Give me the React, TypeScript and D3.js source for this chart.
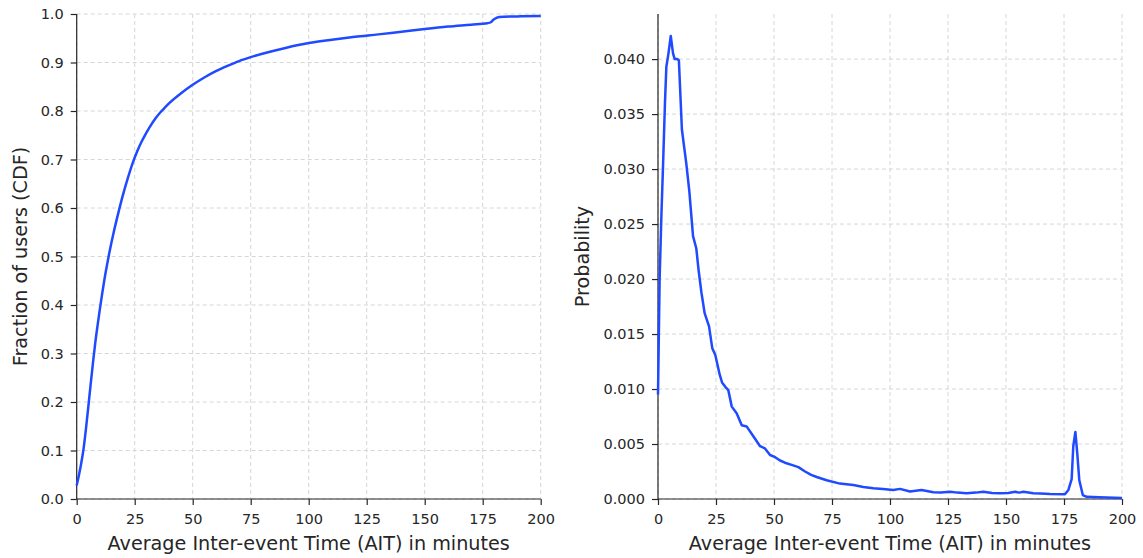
import React, { useEffect, useRef } from 'react'
import * as d3 from 'd3'

// CDF of average inter-event time (left panel)
const cdfX = [0, 1, 2, 3, 4, 5, 6, 7, 8, 9, 10, 11, 12, 13, 14, 16, 18, 20, 22, 24, 26, 28, 30, 32, 34, 36, 38, 40, 45, 50, 55, 60, 65, 70, 75, 80, 90, 100, 110, 120, 130, 140, 150, 160, 170, 177, 178.5, 179.6, 181, 182.2, 190, 200]
const cdfY = [0.028, 0.05, 0.075, 0.105, 0.145, 0.19, 0.236, 0.28, 0.322, 0.358, 0.392, 0.424, 0.454, 0.481, 0.506, 0.551, 0.591, 0.628, 0.661, 0.691, 0.716, 0.737, 0.755, 0.771, 0.785, 0.797, 0.807, 0.8166, 0.8366, 0.854, 0.869, 0.882, 0.893, 0.903, 0.911, 0.918, 0.93, 0.94, 0.947, 0.953, 0.958, 0.9635, 0.969, 0.974, 0.978, 0.981, 0.983, 0.988, 0.992, 0.994, 0.995, 0.996]

// probability distribution (right panel)
const pdfX = [0, 0.7, 1.5, 2.2, 3, 3.6, 4.5, 5.5, 6.5, 7.2, 8.3, 9, 10.3, 12.2, 13.5, 15.1, 16.5, 17.5, 18.7, 20.1, 22, 23.4, 24.7, 26.6, 27.6, 29, 30.3, 31.8, 33.9, 36.1, 38.2, 41.1, 44, 46.1, 48.3, 50.5, 52.6, 54.7, 57.6, 60.5, 63.4, 66, 68.4, 72.7, 78.4, 84.2, 88.5, 92.8, 97, 101.4, 104.3, 108.6, 113.6, 118.7, 122, 125.9, 129, 133, 137, 140.2, 144, 147.4, 151, 153.9, 155.7, 157.5, 161.8, 165, 169, 175.4, 176.9, 178.3, 179, 179.9, 180.7, 181.6, 183.1, 184.8, 190, 200]
const pdfY = [0.0095, 0.02, 0.026, 0.0305, 0.036, 0.0393, 0.0405, 0.0421, 0.0405, 0.04, 0.04, 0.0399, 0.0336, 0.0305, 0.028, 0.0239, 0.0228, 0.0208, 0.0188, 0.0169, 0.0157, 0.0137, 0.0131, 0.0113, 0.0106, 0.0102, 0.0099, 0.0084, 0.0078, 0.0067, 0.0066, 0.0057, 0.0048, 0.0046, 0.004, 0.0038, 0.0035, 0.0033, 0.0031, 0.0029, 0.0025, 0.0022, 0.002, 0.0017, 0.0014, 0.00127, 0.0011, 0.00097, 0.0009, 0.00082, 0.00092, 0.00068, 0.00082, 0.00061, 0.0006, 0.00066, 0.00058, 0.00052, 0.00058, 0.00066, 0.00055, 0.00052, 0.00055, 0.00066, 0.00058, 0.00066, 0.00052, 0.0005, 0.00045, 0.00043, 0.00082, 0.0018, 0.0048, 0.0061, 0.0042, 0.0017, 0.00036, 0.0002, 0.00015, 0.0001]

const xTicks = [0, 25, 50, 75, 100, 125, 150, 175, 200]
const cdfTicks = [0, 0.1, 0.2, 0.3, 0.4, 0.5, 0.6, 0.7, 0.8, 0.9, 1.0]
const pdfTicks = [0, 0.005, 0.01, 0.015, 0.02, 0.025, 0.03, 0.035, 0.04]

const W = 1143
const H = 558
const FONT = 'DejaVu Sans, sans-serif'
const BLUE = '#1f4aff'
const INK = '#262626'

function drawPanel(svg, opts) {
  let { left, right, top, bottom, xs, ys, yMax, yTicks, fmt, label, labelX, smooth } = opts
  let x = d3.scaleLinear().domain([0, 200]).range([left, right])
  let y = d3.scaleLinear().domain([0, yMax]).range([bottom, top])

  let g = svg.append('g')

  // dashed grid
  g.append('g').selectAll('line')
    .data(xTicks)
    .enter()
    .append('line')
    .attr('x1', d => x(d)).attr('x2', d => x(d))
    .attr('y1', top).attr('y2', bottom)
    .attr('stroke', '#d6d6d6').attr('stroke-width', 1).attr('stroke-dasharray', '4,3')
  g.append('g').selectAll('line')
    .data(yTicks)
    .enter()
    .append('line')
    .attr('x1', left).attr('x2', right)
    .attr('y1', d => y(d)).attr('y2', d => y(d))
    .attr('stroke', '#d6d6d6').attr('stroke-width', 1).attr('stroke-dasharray', '4,3')

  // axes, only left and bottom spines
  let xAxis = d3.axisBottom(x).tickValues(xTicks).tickSize(6).tickPadding(9).tickFormat(d3.format('d'))
  let yAxis = d3.axisLeft(y).tickValues(yTicks).tickSize(6).tickPadding(7).tickFormat(d3.format(fmt))
  let gx = g.append('g').attr('transform', 'translate(0,' + bottom + ')').call(xAxis)
  let gy = g.append('g').attr('transform', 'translate(' + left + ',0)').call(yAxis)
  gx.select('.domain').attr('d', 'M' + left + ',0H' + right)
  gy.select('.domain').attr('d', 'M0,' + top + 'V' + bottom)
  ;[gx, gy].forEach(a => {
    a.select('.domain').attr('stroke', INK).attr('stroke-width', 1.2)
    a.selectAll('.tick line').attr('stroke', INK).attr('stroke-width', 1.2)
    a.selectAll('.tick text').attr('fill', INK).attr('font-size', 14.5).attr('font-family', FONT)
  })

  // the curve
  let line = d3.line().x(d => x(d[0])).y(d => y(d[1]))
    .curve(smooth ? d3.curveMonotoneX : d3.curveLinear)
  g.append('path')
    .datum(xs.map((v, i) => [v, ys[i]]))
    .attr('d', line)
    .attr('fill', 'none')
    .attr('stroke', BLUE)
    .attr('stroke-width', 2.5)
    .attr('stroke-linejoin', 'round')

  // axis titles
  g.append('text')
    .attr('x', (left + right) / 2).attr('y', 550)
    .attr('text-anchor', 'middle')
    .attr('font-size', 19.2).attr('font-family', FONT).attr('fill', INK)
    .text('Average Inter-event Time (AIT) in minutes')
  g.append('text')
    .attr('transform', 'translate(' + labelX + ',' + (top + bottom) / 2 + ') rotate(-90)')
    .attr('text-anchor', 'middle')
    .attr('font-size', 19.2).attr('font-family', FONT).attr('fill', INK)
    .text(label)
}

export default function App() {
  const ref = useRef(null)

  useEffect(() => {
    let svg = d3.select(ref.current)
    svg.selectAll('*').remove()
    svg.append('rect').attr('width', W).attr('height', H).attr('fill', '#fff')

    drawPanel(svg, {
      left: 76.7, right: 540.7, top: 14, bottom: 499,
      xs: cdfX, ys: cdfY, yMax: 1.0, yTicks: cdfTicks, fmt: '.1f',
      label: 'Fraction of users (CDF)', labelX: 27, smooth: true
    })
    drawPanel(svg, {
      left: 658, right: 1122, top: 14, bottom: 499,
      xs: pdfX, ys: pdfY, yMax: 0.0441, yTicks: pdfTicks, fmt: '.3f',
      label: 'Probability', labelX: 589, smooth: false
    })
  }, [])

  return (
    <svg ref={ref} width={W} height={H} style={{ position: 'absolute', left: 0, top: 0 }} />
  )
}
